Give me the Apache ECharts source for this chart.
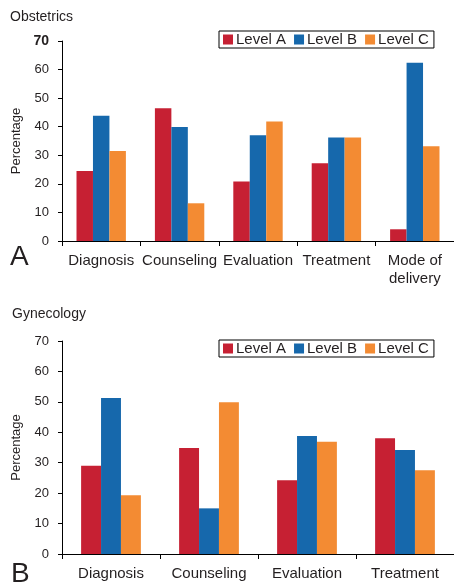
<!DOCTYPE html>
<html><head><meta charset="utf-8">
<script src="https://cdn.jsdelivr.net/npm/echarts@6/dist/echarts.min.js"></script>
<style>html,body{margin:0;padding:0;background:#fff}#c{width:454px;height:583px}</style>
</head><body><div id="c"></div>
<script>
var obsCategories = ['Diagnosis', 'Counseling', 'Evaluation', 'Treatment', 'Mode of\ndelivery'];
var obsLevelA = [24.5, 46.5, 20.8, 27.2, 4.1];
var obsLevelB = [43.8, 39.9, 37.0, 36.2, 62.4];
var obsLevelC = [31.5, 13.2, 41.8, 36.2, 33.2];

var gynCategories = ['Diagnosis', 'Counseling', 'Evaluation', 'Treatment'];
var gynLevelA = [29.0, 34.8, 24.2, 38.0];
var gynLevelB = [51.3, 15.0, 38.8, 34.2];
var gynLevelC = [19.3, 49.9, 36.9, 27.5];

var yTicks = [0, 10, 20, 30, 40, 50, 60, 70];
var seriesNames = ['Level A', 'Level B', 'Level C'];
var colors = ['#C62033', '#1668AC', '#F38B33'];

var FONT = '"Liberation Sans", Arial, sans-serif';
var TXT = '#231F20';

function yAxis(gridIndex, boldTop) {
  return {
    type: 'value', gridIndex: gridIndex, min: yTicks[0], max: yTicks[yTicks.length - 1], interval: 10,
    name: 'Percentage', nameLocation: 'middle', nameGap: 39,
    nameTextStyle: { fontFamily: FONT, fontSize: 13, color: TXT },
    axisLine: { show: true, lineStyle: { color: '#000', width: 1 } },
    axisTick: { show: true, length: 4, lineStyle: { color: '#000' } },
    splitLine: { show: false },
    axisLabel: {
      fontFamily: FONT, fontSize: 13, color: TXT, margin: 13,
      formatter: function (v) { return (boldTop && v === 70) ? '{b|' + v + '}' : String(v); },
      rich: { b: { fontWeight: 'bold', fontFamily: FONT, fontSize: 14, color: TXT } }
    }
  };
}
function xAxis(gridIndex, cats) {
  return {
    type: 'category', gridIndex: gridIndex, data: cats,
    axisLine: { show: true, lineStyle: { color: '#000', width: 1 } },
    axisTick: { show: true, length: 5, alignWithLabel: false, lineStyle: { color: '#000' } },
    axisLabel: { fontFamily: FONT, fontSize: 15, color: TXT, margin: 11, lineHeight: 18, interval: 0 }
  };
}
function legend(top) {
  return {
    left: 219, top: top, data: seriesNames, icon: 'rect', itemWidth: 10, itemHeight: 10, itemGap: 8,
    borderColor: '#000', borderWidth: 1, padding: [1, 5, 1, 4], borderRadius: 0,
    textStyle: { fontFamily: FONT, fontSize: 15, color: TXT, padding: [0, 0, 0, -2] }
  };
}
var obsData = [obsLevelA, obsLevelB, obsLevelC];
var gynData = [gynLevelA, gynLevelB, gynLevelC];
var series = [];
seriesNames.forEach(function (n, i) {
  series.push({ name: n, type: 'bar', xAxisIndex: 0, yAxisIndex: 0, data: obsData[i], barGap: '0%', barCategoryGap: '37%', itemStyle: { color: colors[i] } });
});
seriesNames.forEach(function (n, i) {
  series.push({ name: n, type: 'bar', xAxisIndex: 1, yAxisIndex: 1, data: gynData[i], barGap: '0%', barCategoryGap: '39%', itemStyle: { color: colors[i] } });
});

var chart = echarts.init(document.getElementById('c'));
chart.setOption({
  animation: false,
  textStyle: { fontFamily: FONT },
  title: [
    { text: 'Obstetrics', left: 5, top: 5, textStyle: { fontFamily: FONT, fontSize: 14, fontWeight: 'normal', color: TXT } },
    { text: 'Gynecology', left: 7, top: 302, textStyle: { fontFamily: FONT, fontSize: 14, fontWeight: 'normal', color: TXT } },
    { text: 'A', left: 5, top: 238, textStyle: { fontFamily: FONT, fontSize: 28, fontWeight: 'normal', color: TXT } },
    { text: 'B', left: 6, top: 555, textStyle: { fontFamily: FONT, fontSize: 28, fontWeight: 'normal', color: TXT } }
  ],
  legend: [legend(31), legend(340)],
  grid: [
    { left: 62, top: 41, width: 395, height: 200, containLabel: false },
    { left: 62, top: 341, width: 392, height: 216, containLabel: false }
  ],
  xAxis: [xAxis(0, obsCategories), xAxis(1, gynCategories)],
  yAxis: [yAxis(0, true), yAxis(1, false)],
  series: series
});
</script></body></html>
